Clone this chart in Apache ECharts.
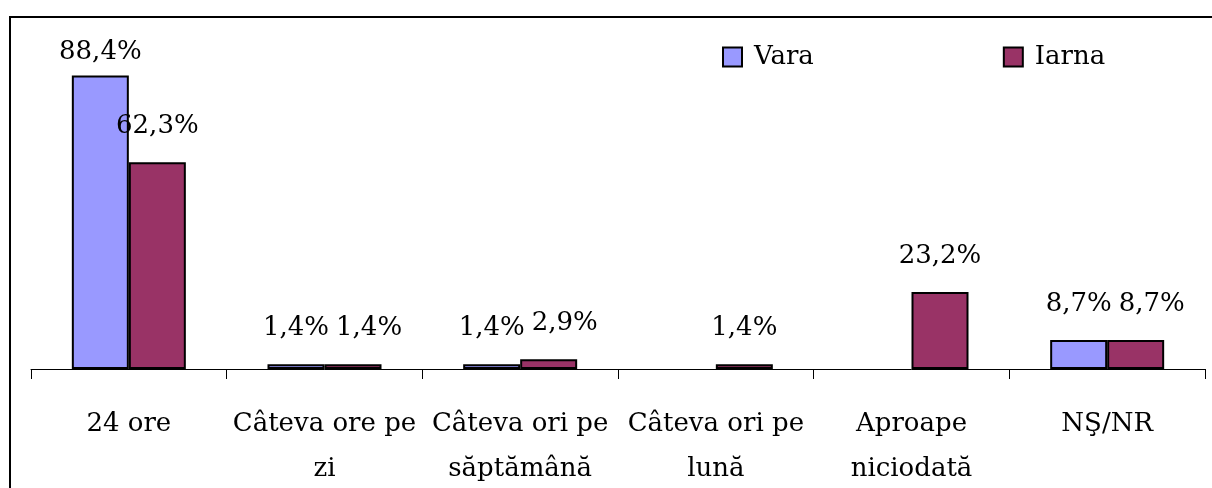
<!DOCTYPE html>
<html>
<head>
<meta charset="utf-8">
<script src="https://cdn.jsdelivr.net/npm/echarts@6/dist/echarts.min.js"></script>
<style>
html,body{margin:0;padding:0;background:#fff;}
#chart{width:1212px;height:488px;}
</style>
</head>
<body>
<div id="chart"></div>
<script>
const categories = ["24 ore", "Câteva ore pe\nzi", "Câteva ori pe\nsăptămână", "Câteva ori pe\nlună", "Aproape\nniciodată", "NŞ/NR"];
const seriesNames = ["Vara", "Iarna"];
const vara = [88.4, 1.4, 1.4, null, null, 8.7];
const iarna = [62.3, 1.4, 2.9, 1.4, 23.2, 8.7];

const FONT = "DejaVu Serif";
const FS = 26;
const BAR_W = 57;
const chart = echarts.init(document.getElementById('chart'), null, {renderer: 'canvas'});

function fmt(p) { return p.value == null ? '' : p.value.toFixed(1).replace('.', ',') + '%'; }

const mctx = document.createElement('canvas').getContext('2d');
mctx.font = FS + 'px "' + FONT + '"';
function textW(v) { return mctx.measureText(fmt({value: v})).width; }

function buildVara() {
  return vara.map(function (v) {
    if (v != null && v > 80) return {value: v, label: {distance: 10}};
    return v;
  });
}
// push the winter label right when it would collide with the summer label
function buildIarna() {
  return iarna.map(function (v, i) {
    const u = vara[i];
    if (v == null || u == null || Math.abs(v - u) > 8) return v;
    const overlap = (textW(u) + textW(v)) / 2 + 7 - BAR_W;
    return overlap > 0 ? {value: v, label: {offset: [overlap, 0]}} : v;
  });
}

const labelStyle = {
  show: true, position: 'top', distance: 23, formatter: fmt,
  fontFamily: FONT, fontSize: FS, color: '#000'
};

chart.setOption({
  animation: false,
  backgroundColor: '#fff',
  graphic: [{
    type: 'rect', shape: {x: 10, y: 17, width: 1220, height: 500},
    style: {fill: 'none', stroke: '#000', lineWidth: 2}, z: 0
  }],
  legend: {
    data: seriesNames,
    left: 717, top: 39,
    itemWidth: 19, itemHeight: 19, itemGap: 189,
    icon: 'rect',
    textStyle: {fontFamily: FONT, fontSize: FS, color: '#000', padding: [0, 0, 0, 7]}
  },
  grid: {left: 31, right: 7, top: 37, bottom: 119, outerBoundsMode: 'none', containLabel: false},
  xAxis: {
    type: 'category', data: categories,
    axisLine: {lineStyle: {color: '#000', width: 1}},
    axisTick: {show: true, length: 10, lineStyle: {color: '#000'}},
    axisLabel: {
      interval: 0, fontFamily: FONT, fontSize: FS, color: '#000',
      margin: 33, lineHeight: 45
    }
  },
  yAxis: {
    type: 'value', min: 0, max: 100, show: false,
    splitLine: {show: false}
  },
  series: [
    {
      name: seriesNames[0], type: 'bar', data: buildVara(),
      barWidth: BAR_W, barGap: '0%',
      itemStyle: {color: '#9999FF', borderColor: '#000', borderWidth: 2},
      label: labelStyle
    },
    {
      name: seriesNames[1], type: 'bar', data: buildIarna(),
      barWidth: BAR_W, barGap: '0%',
      itemStyle: {color: '#993366', borderColor: '#000', borderWidth: 2},
      label: labelStyle
    }
  ]
});
</script>
</body>
</html>
